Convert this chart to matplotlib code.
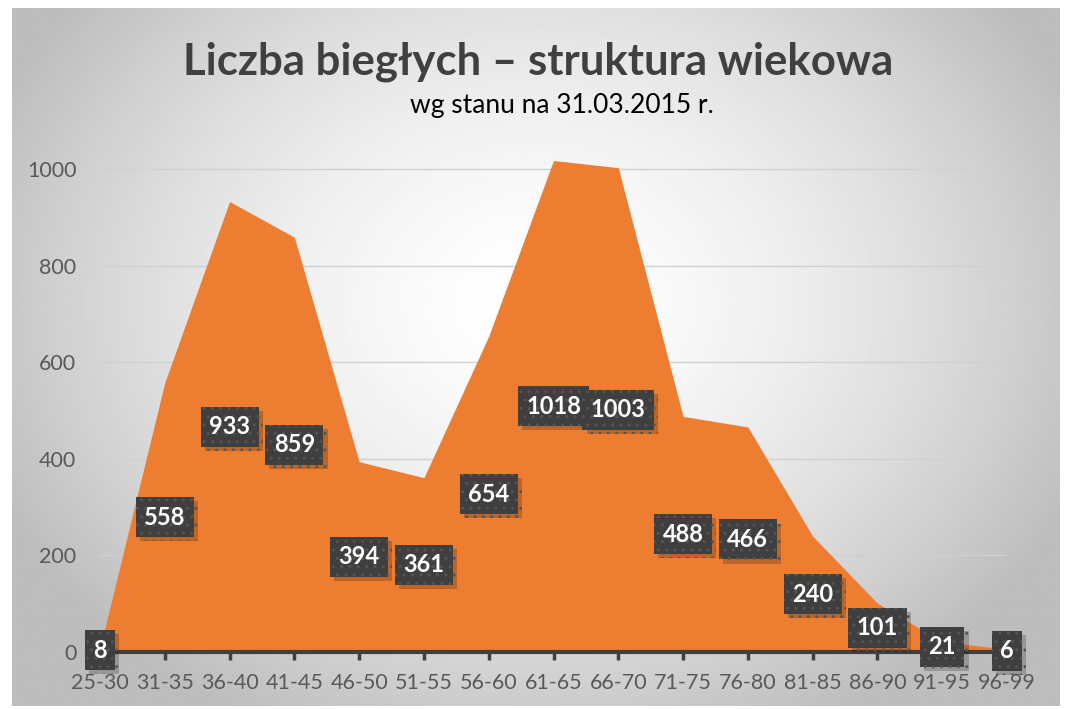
import numpy as np
import matplotlib
matplotlib.use('Agg')
import matplotlib.pyplot as plt
import matplotlib.patheffects as pe

# data
age_groups = ['25-30', '31-35', '36-40', '41-45', '46-50', '51-55', '56-60', '61-65',
              '66-70', '71-75', '76-80', '81-85', '86-90', '91-95', '96-99']
counts = [8, 558, 933, 859, 394, 361, 654, 1018, 1003, 488, 466, 240, 101, 21, 6]
y_ticks = [0, 200, 400, 600, 800, 1000]

FONT = 'Lato'
W, H = 1067, 709
fig = plt.figure(figsize=(W/100, H/100), dpi=100)
fig.patch.set_facecolor('white')

# background with radial gradient (chart area)
bg = fig.add_axes([12/W, 3/H, 1048/W, 698/H])
bg.set_axis_off()
yy, xx = np.mgrid[0:1:300j, 0:1:450j]
r = np.sqrt(((xx-0.5)/0.62)**2 + ((yy-0.42)/0.75)**2)
shade = np.clip(1.0 - 0.30*r**1.6, 0.74, 1.0)
bg.imshow(shade, cmap='gray', vmin=0, vmax=1, aspect='auto', extent=(0, 1, 0, 1))
bg.set_xlim(0, 1); bg.set_ylim(0, 1)

ax = fig.add_axes([100/W, 57/H, 907/W, 507/H])
ax.patch.set_alpha(0)
x = np.arange(len(age_groups))
ax.fill_between(x, counts, 0, color='#ED7D31', lw=0, zorder=2)
ax.set_xlim(0, len(age_groups)-1)
ax.set_ylim(0, 1050)
ax.set_yticks(y_ticks)
ax.yaxis.grid(True, color='#d0d0d0', lw=1, zorder=0)
ax.set_axisbelow(True)
for s in ['top', 'right', 'left']:
    ax.spines[s].set_visible(False)
ax.spines['bottom'].set_color('#404040')
ax.spines['bottom'].set_linewidth(3)
ax.spines['bottom'].set_zorder(3)
ax.set_xticks(x)
ax.set_xticklabels(age_groups)
ax.tick_params(axis='x', length=6, width=2.5, color='#404040', labelsize=15.5,
               labelcolor='#595959', pad=9)
ax.tick_params(axis='y', length=0, labelsize=15.5, labelcolor='#595959', pad=17)
for lab in ax.get_xticklabels() + ax.get_yticklabels():
    lab.set_family(FONT)

# data labels: dark boxes centred at half height
for xi, v in zip(x, counts):
    t = ax.text(xi, v/2, str(v), ha='center', va='center', fontsize=17,
                fontweight='bold', color='white', family=FONT, zorder=5,
                clip_on=False,
                bbox=dict(boxstyle='square,pad=0.36', facecolor='#3f3f3f',
                          edgecolor='#555555', hatch='..', linewidth=0))
    t.get_bbox_patch().set_path_effects([
        pe.SimplePatchShadow(offset=(3, -3), shadow_rgbFace='black', alpha=0.2),
        pe.Normal()])

fig.text(538/W, 1-62/H, 'Liczba biegłych – struktura wiekowa', ha='center', va='center',
         fontsize=31.5, fontweight='bold', color='#404040', family=FONT)
fig.text(562/W, 1-106/H, 'wg stanu na 31.03.2015 r.', ha='center', va='center',
         fontsize=19, color='black', family=FONT)

fig.savefig('out.png', dpi=100)
